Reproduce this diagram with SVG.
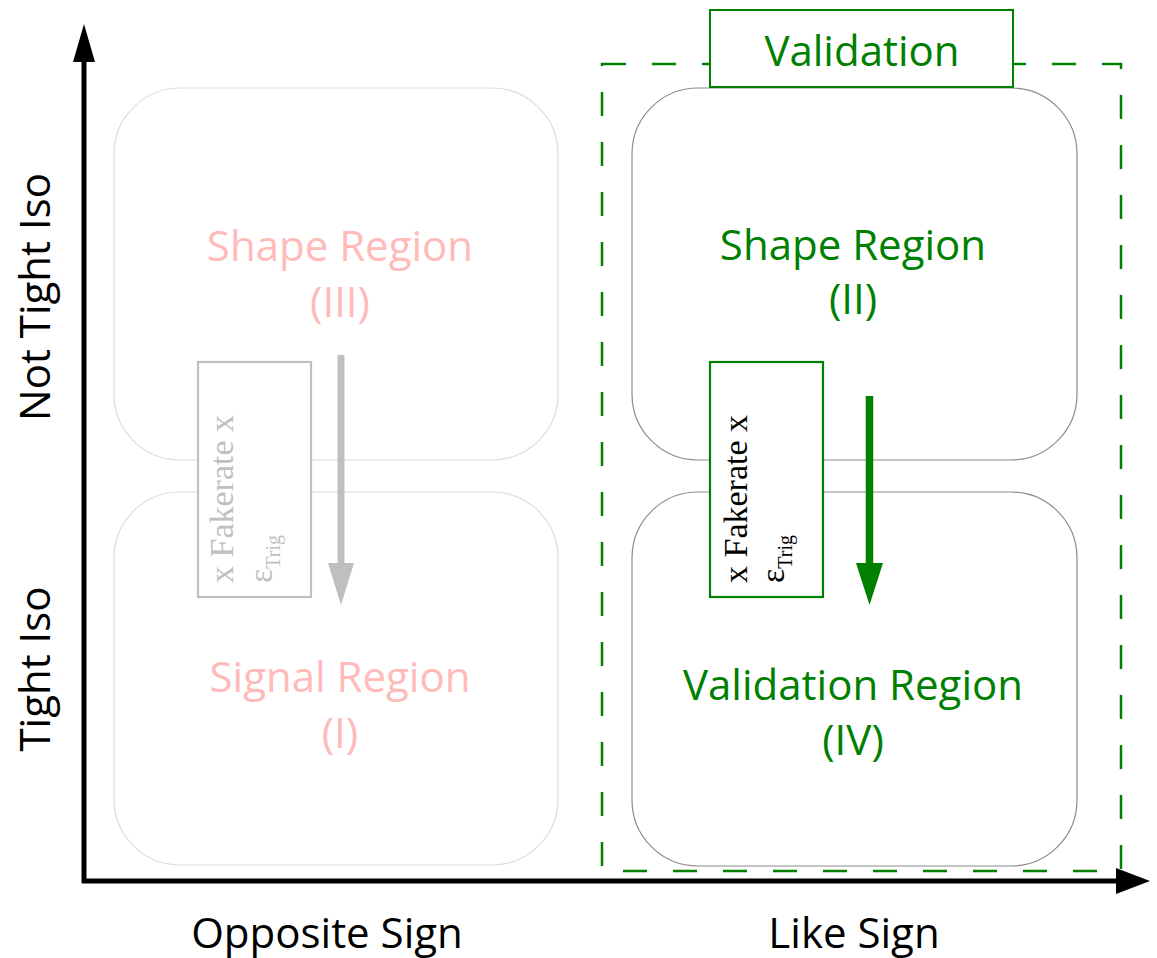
<svg xmlns="http://www.w3.org/2000/svg" width="1157" height="958" viewBox="0 0 1157 958">
<style>
.lbl{font-family:"Open Sans","Liberation Sans",sans-serif;font-size:42px;text-anchor:middle}
.pink{fill:#ffbaba}
.green{fill:#008000}
.blk{fill:#000}
.rrL{fill:#fff;stroke:#dcdcdc;stroke-width:1.2}
.rrR{fill:#fff;stroke:#8c8c8c;stroke-width:1.2}
.fr{font-family:"Liberation Serif","Times New Roman",serif;font-size:34px}
.sub{font-size:20px}
</style>
<rect width="1157" height="958" fill="#fff"/>

<g id="validation-frame">
<rect x="602" y="64" width="519" height="807" fill="none" stroke="#008000" stroke-width="2.5" stroke-dasharray="24 26"/>
</g>

<g id="shape-region-III">
<rect class="rrL" x="114" y="88" width="444" height="372" rx="66" ry="66"/>
<text class="lbl pink" x="340" y="261">Shape Region</text>
<text class="lbl pink" x="340" y="317">(III)</text>
</g>
<g id="signal-region-I">
<rect class="rrL" x="114" y="492" width="444" height="373" rx="66" ry="66"/>
<text class="lbl pink" x="340" y="692">Signal Region</text>
<text class="lbl pink" x="340" y="748">(I)</text>
</g>
<g id="shape-region-II">
<rect class="rrR" x="632" y="88" width="445" height="372" rx="66" ry="66"/>
<text class="lbl green" x="853" y="260">Shape Region</text>
<text class="lbl green" x="853" y="314">(II)</text>
</g>
<g id="validation-region-IV">
<rect class="rrR" x="632" y="492" width="445" height="374" rx="66" ry="66"/>
<text class="lbl green" x="853" y="700">Validation Region</text>
<text class="lbl green" x="853" y="755">(IV)</text>
</g>

<g id="validation-label">
<rect x="710" y="10" width="303" height="77" fill="#fff" stroke="#008000" stroke-width="2"/>
<text class="lbl green" x="862" y="66">Validation</text>
</g>

<g id="connectors">
<line x1="341" y1="355" x2="341" y2="564" stroke="#bfbfbf" stroke-width="7"/>
<polygon points="328,563 354,563 341,605" fill="#bfbfbf"/>
<line x1="869.5" y1="396" x2="869.5" y2="565" stroke="#008000" stroke-width="7.5"/>
<polygon points="856,563 883,563 869.5,605" fill="#008000"/>
</g>

<g id="fakerate-left">
<rect x="198" y="362" width="113" height="235" fill="#fff" stroke="#c0c0c0" stroke-width="2.2"/>
<text class="fr" fill="#c0c0c0" transform="translate(233,583) rotate(-90)">x Fakerate x</text>
<text class="fr" fill="#c0c0c0" transform="translate(272,583) rotate(-90)">ε<tspan class="sub" dy="8">Trig</tspan></text>
</g>
<g id="fakerate-right">
<rect x="710" y="362" width="113" height="235" fill="#fff" stroke="#008000" stroke-width="2.2"/>
<text class="fr" fill="#000" transform="translate(747,583) rotate(-90)">x Fakerate x</text>
<text class="fr" fill="#000" transform="translate(784,583) rotate(-90)">ε<tspan class="sub" dy="8">Trig</tspan></text>
</g>

<g id="axes">
<line x1="84" y1="883" x2="84" y2="60" stroke="#000" stroke-width="5"/>
<polygon points="73,62 95,62 84,24" fill="#000"/>
<line x1="82" y1="881" x2="1118" y2="881" stroke="#000" stroke-width="5"/>
<polygon points="1116,868 1116,894 1150,881" fill="#000"/>
<text class="lbl blk" x="327" y="948">Opposite Sign</text>
<text class="lbl blk" x="854" y="948">Like Sign</text>
<text class="lbl blk" transform="translate(50,297) rotate(-90)">Not Tight Iso</text>
<text class="lbl blk" transform="translate(50,669) rotate(-90)">Tight Iso</text>
</g>
</svg>
